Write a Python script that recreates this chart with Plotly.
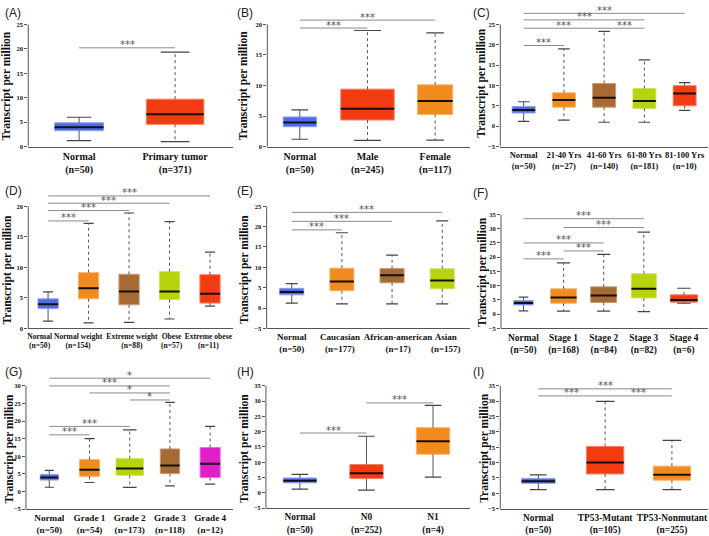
import plotly.graph_objects as go

# ---- data (TPM box statistics) ----
normal_lo, normal_q1, normal_med, normal_q3, normal_hi = 1.2, 3.25, 3.95, 4.85, 6.0

a_groups = ["Normal", "Primary tumor"]
a_n = [50, 371]
a_lo = [normal_lo, 1.0]
a_q1 = [normal_q1, 4.55]
a_med = [normal_med, 6.6]
a_q3 = [normal_q3, 9.7]
a_hi = [normal_hi, 19.3]
a_sig = [(0, 1, 20.2, "***")]

b_groups = ["Normal", "Male", "Female"]
b_n = [50, 245, 117]
b_lo = [normal_lo, 1.0, 1.05]
b_q1 = [normal_q1, 4.35, 5.25]
b_med = [normal_med, 6.2, 7.45]
b_q3 = [normal_q3, 9.4, 10.1]
b_hi = [normal_hi, 19.0, 18.6]
b_sig = [(0, 1, 19.4, "***"), (0, 2, 20.7, "***")]

c_groups = ["Normal", "21-40 Yrs", "41-60 Yrs", "61-80 Yrs", "81-100 Yrs"]
c_n = [50, 27, 140, 181, 10]
c_lo = [normal_lo, 1.5, 0.97, 0.97, 3.9]
c_q1 = [normal_q1, 4.67, 4.67, 4.35, 5.0]
c_med = [normal_med, 6.45, 7.0, 6.2, 8.0]
c_q3 = [normal_q3, 8.2, 10.5, 9.25, 9.95]
c_hi = [normal_hi, 19.0, 23.3, 16.3, 10.7]
c_sig = [(0, 1, 19.8, "***"), (0, 2, 24.05, "***"), (2, 3, 24.05, "***"),
         (0, 3, 26.1, "***"), (0, 4, 27.7, "***")]

d_groups = ["Normal", "Normal weight", "Extreme weight", "Obese", "Extreme obese"]
d_n = [50, 154, 88, 57, 11]
d_lo = [normal_lo, 0.9, 1.0, 1.55, 3.65]
d_q1 = [normal_q1, 4.85, 3.87, 4.73, 4.15]
d_med = [normal_med, 6.6, 6.07, 6.07, 5.7]
d_q3 = [normal_q3, 9.14, 8.87, 9.3, 8.8]
d_hi = [normal_hi, 17.2, 18.9, 17.5, 12.5]
d_sig = [(0, 1, 17.6, "***"), (0, 2, 19.3, "***"), (0, 3, 20.5, "***"), (0, 4, 21.7, "***")]

e_groups = ["Normal", "Caucasian", "African-american", "Asian"]
e_n = [50, 177, 17, 157]
e_lo = [normal_lo, 1.05, 1.05, 1.05]
e_q1 = [normal_q1, 4.26, 6.2, 4.75]
e_med = [normal_med, 6.5, 8.05, 6.76]
e_q3 = [normal_q3, 9.8, 9.7, 9.65]
e_hi = [normal_hi, 18.5, 13.0, 21.4]
e_sig = [(0, 1, 19.2, "***"), (0, 2, 21.3, "***"), (0, 3, 23.5, "***")]

f_groups = ["Normal", "Stage 1", "Stage 2", "Stage 3", "Stage 4"]
f_n = [50, 168, 84, 82, 6]
f_lo = [normal_lo, 1.1, 1.1, 0.9, 3.85]
f_q1 = [normal_q1, 3.85, 4.1, 5.7, 4.2]
f_med = [normal_med, 5.9, 6.6, 8.9, 5.0]
f_q3 = [normal_q3, 8.9, 9.6, 14.2, 6.8]
f_hi = [normal_hi, 18.0, 21.0, 28.8, 9.1]
f_sig = [(0, 1, 19.4, "***"), (1, 2, 22.2, "***"), (0, 2, 25.0, "***"),
         (1, 3, 30.4, "***"), (0, 3, 33.5, "***")]

g_groups = ["Normal", "Grade 1", "Grade 2", "Grade 3", "Grade 4"]
g_n = [50, 54, 173, 118, 12]
g_lo = [normal_lo, 2.55, 1.15, 1.6, 2.1]
g_q1 = [normal_q1, 4.3, 4.6, 5.07, 3.94]
g_med = [normal_med, 6.2, 6.55, 7.4, 7.85]
g_q3 = [normal_q3, 9.06, 9.35, 12.1, 12.5]
g_hi = [normal_hi, 15.0, 17.5, 25.3, 18.5]
g_sig = [(0, 1, 16.1, "***"), (0, 2, 18.5, "***"), (2, 3, 26.0, "*"),
         (1, 3, 28.0, "*"), (0, 3, 30.0, "***"), (0, 4, 32.2, "*")]

h_groups = ["Normal", "N0", "N1"]
h_n = [50, 252, 4]
h_lo = [normal_lo, 0.9, 5.1]
h_q1 = [normal_q1, 4.66, 12.6]
h_med = [normal_med, 6.4, 16.9]
h_q3 = [normal_q3, 9.26, 21.3]
h_hi = [normal_hi, 18.5, 28.6]
h_sig = [(0, 1, 19.55, "***"), (1, 2, 29.4, "***")]

i_groups = ["Normal", "TP53-Mutant", "TP53-Nonmutant"]
i_n = [50, 105, 255]
i_lo = [normal_lo, 1.17, 1.17]
i_q1 = [normal_q1, 6.3, 4.27]
i_med = [normal_med, 10.0, 6.08]
i_q3 = [normal_q3, 15.25, 8.85]
i_hi = [normal_hi, 29.9, 17.2]
i_sig = [(0, 1, 31.7, "***"), (1, 2, 31.7, "***"), (0, 2, 34.0, "***")]

# ---- style ----
W, H = 709, 536
BLUE = "#4f6ce8"
RED = "#f23b10"
ORANGE = "#f28b1d"
BROWN = "#a86a33"
LIME = "#b6d30c"
MAGENTA = "#e01fc8"
AXIS = "#555555"
SERIF = "Liberation Serif"


def lighten(c, f=0.35):
    r, g, b = (int(c[k:k + 2], 16) for k in (1, 3, 5))
    r, g, b = (round(v + (255 - v) * f) for v in (r, g, b))
    return f"rgb({r},{g},{b})"


panels = [
    dict(tag="(A)", groups=a_groups, n=a_n, stats=(a_lo, a_q1, a_med, a_q3, a_hi), sig=a_sig,
         colors=[BLUE, RED], widths=[0.51, 0.6], xpx=(27.3, 232), xr=(-0.53, 1.6),
         ypx=(20.7, 145), yr=(0, 25), font=10, title=(6, 83), tagpos=(2, 0)),
    dict(tag="(B)", groups=b_groups, n=b_n, stats=(b_lo, b_q1, b_med, b_q3, b_hi), sig=b_sig,
         colors=[BLUE, RED, ORANGE], widths=[0.49, 0.79, 0.52], xpx=(266.7, 470), xr=(-0.48, 2.52),
         ypx=(11.4, 145), yr=(0, 21.5), ytop=20, font=10, title=(243, 83), tagpos=(234, 0)),
    dict(tag="(C)", groups=c_groups, n=c_n, stats=(c_lo, c_q1, c_med, c_q3, c_hi), sig=c_sig,
         colors=[BLUE, ORANGE, BROWN, LIME, RED], widths=[0.57] * 5, xpx=(500, 708), xr=(-0.58, 4.58),
         ypx=(6.2, 145), yr=(-5, 28.5), ytop=25, font=8.5, title=(481.7, 81), tagpos=(471, 0)),
    dict(tag="(D)", groups=d_groups, n=d_n, stats=(d_lo, d_q1, d_med, d_q3, d_hi), sig=d_sig,
         colors=[BLUE, ORANGE, BROWN, LIME, RED], widths=[0.5] * 5, xpx=(27.3, 232), xr=(-0.49, 4.56),
         ypx=(190.2, 330), yr=(0, 22.5), ytop=20, font=7.6, title=(6, 270), tagpos=(2, 181),
         tickshift=[-0.21, -0.26, 0.07, 0.05, -0.04]),
    dict(tag="(E)", groups=e_groups, n=e_n, stats=(e_lo, e_q1, e_med, e_q3, e_hi), sig=e_sig,
         colors=[BLUE, ORANGE, BROWN, LIME], widths=[0.48] * 4, xpx=(266, 470), xr=(-0.5, 3.56),
         ypx=(205.7, 330), yr=(-5, 25), font=9.0, title=(244, 270), tagpos=(234, 181),
         tickshift=[0, -0.04, 0.12, 0.07]),
    dict(tag="(F)", groups=f_groups, n=f_n, stats=(f_lo, f_q1, f_med, f_q3, f_hi), sig=f_sig,
         colors=[BLUE, ORANGE, BROWN, LIME, RED], widths=[0.48, 0.65, 0.65, 0.62, 0.68],
         xpx=(500.7, 708), xr=(-0.56, 4.6), ypx=(214, 330), yr=(-5, 35), font=9.4,
         title=(482, 273), tagpos=(471, 183)),
    dict(tag="(G)", groups=g_groups, n=g_n, stats=(g_lo, g_q1, g_med, g_q3, g_hi), sig=g_sig,
         colors=[BLUE, ORANGE, LIME, BROWN, MAGENTA], widths=[0.45, 0.5, 0.68, 0.48, 0.5],
         xpx=(25, 232), xr=(-0.58, 4.56), ypx=(375.9, 513.7), yr=(-5, 33.5), ytop=30, font=9.2,
         title=(8, 452), tagpos=(2, 365)),
    dict(tag="(H)", groups=h_groups, n=h_n, stats=(h_lo, h_q1, h_med, h_q3, h_hi), sig=h_sig,
         colors=[BLUE, RED, ORANGE], widths=[0.5] * 3, xpx=(265.3, 470), xr=(-0.51, 2.56),
         ypx=(388.3, 512.7), yr=(-5, 35), font=9.4, title=(244, 452), tagpos=(234, 365), solid=True),
    dict(tag="(I)", groups=i_groups, n=i_n, stats=(i_lo, i_q1, i_med, i_q3, i_hi), sig=i_sig,
         colors=[BLUE, RED, ORANGE], widths=[0.5, 0.56, 0.56], xpx=(500, 708), xr=(-0.57, 2.54),
         ypx=(388.3, 513.3), yr=(-5, 35), font=9.4, title=(484, 452), tagpos=(471, 365)),
]

fig = go.Figure()
annotations = []
shapes = []

for k, p in enumerate(panels, start=1):
    sfx = "" if k == 1 else str(k)
    xa, ya = f"x{sfx}", f"y{sfx}"
    lo, q1, med, q3, hi = p["stats"]
    xs = list(range(len(p["groups"])))
    wd = p["widths"]

    # whiskers
    for solid_set, dash in ((True, "solid"), (False, "dot")):
        wx, wy = [], []
        for i in xs:
            is_solid = i == 0 or p.get("solid", False)
            if is_solid != solid_set:
                continue
            wx += [i, i, None, i, i, None]
            wy += [q3[i], hi[i], None, q1[i], lo[i], None]
        if wx:
            fig.add_trace(go.Scatter(x=wx, y=wy, mode="lines", xaxis=xa, yaxis=ya,
                                     line=dict(color="#555555", width=1, dash=dash),
                                     showlegend=False, hoverinfo="skip"))
    # caps
    cx, cy = [], []
    for i in xs:
        c = wd[i] * 0.25
        cx += [i - c, i + c, None, i - c, i + c, None]
        cy += [hi[i], hi[i], None, lo[i], lo[i], None]
    fig.add_trace(go.Scatter(x=cx, y=cy, mode="lines", xaxis=xa, yaxis=ya,
                             line=dict(color="#444444", width=1.2),
                             showlegend=False, hoverinfo="skip"))
    # boxes
    fig.add_trace(go.Bar(x=xs, y=[q3[i] - q1[i] for i in xs], base=q1, width=wd,
                         xaxis=xa, yaxis=ya,
                         marker=dict(color=p["colors"],
                                     line=dict(color=[lighten(c) for c in p["colors"]], width=1)),
                         showlegend=False, hoverinfo="skip"))
    # medians
    mx, my = [], []
    for i in xs:
        mx += [i - wd[i] / 2, i + wd[i] / 2, None]
        my += [med[i], med[i], None]
    fig.add_trace(go.Scatter(x=mx, y=my, mode="lines", xaxis=xa, yaxis=ya,
                             line=dict(color="#111111", width=2),
                             showlegend=False, hoverinfo="skip"))
    # significance brackets
    bx, by = [], []
    for i0, i1, yv, lab in p["sig"]:
        bx += [i0, i1, None]
        by += [yv, yv, None]
        annotations.append(dict(x=(i0 + i1) / 2, y=yv, xref=xa, yref=ya, text=lab,
                                showarrow=False, yanchor="middle", yshift=3,
                                font=dict(family="DejaVu Sans", size=10, color="#555555")))
    fig.add_trace(go.Scatter(x=bx, y=by, mode="lines", xaxis=xa, yaxis=ya,
                             line=dict(color="#8a8a8a", width=1),
                             showlegend=False, hoverinfo="skip"))

    # axes
    ytop = p.get("ytop", p["yr"][1])
    ticks = list(range(int(p["yr"][0]), int(ytop) + 1, 5))
    shift = p.get("tickshift", [0] * len(xs))
    fig.update_layout(**{
        f"xaxis{sfx}": dict(domain=[p["xpx"][0] / W, p["xpx"][1] / W], range=list(p["xr"]),
                            anchor=ya, tickvals=[i + s for i, s in zip(xs, shift)], tickangle=0,
                            ticktext=[f"{g}<br>(n={n})" for g, n in zip(p["groups"], p["n"])],
                            tickfont=dict(family=SERIF, size=p["font"], color="#111111", weight="bold"),
                            showline=True, linecolor=AXIS, linewidth=1, ticks="",
                            showgrid=False, zeroline=False, fixedrange=True),
        f"yaxis{sfx}": dict(domain=[1 - p["ypx"][1] / H, 1 - p["ypx"][0] / H], range=list(p["yr"]),
                            anchor=xa, tickvals=ticks,
                            tickfont=dict(family=SERIF, size=6.5, color="#111111", weight="bold"),
                            ticks="outside", ticklen=3, tickcolor=AXIS, tickwidth=1,
                            showline=False, showgrid=False, zeroline=False, fixedrange=True),
    })
    shapes.append(dict(type="line", xref=f"{xa} domain", yref=ya, x0=0, x1=0,
                       y0=p["yr"][0], y1=ytop, line=dict(color=AXIS, width=1)))

    annotations.append(dict(x=p["title"][0] / W, y=1 - p["title"][1] / H, xref="paper", yref="paper",
                            text="Transcript per million", textangle=-90, showarrow=False,
                            xanchor="center", yanchor="middle",
                            font=dict(family=SERIF, size=11.5, color="#111111", weight="bold")))
    annotations.append(dict(x=p["tagpos"][0] / W, y=1 - p["tagpos"][1] / H, xref="paper", yref="paper",
                            text=p["tag"], showarrow=False, xanchor="left", yanchor="top",
                            font=dict(family="Liberation Sans", size=12, color="#222222")))

fig.update_layout(
    width=W, height=H,
    margin=dict(l=0, r=0, t=0, b=0),
    paper_bgcolor="white", plot_bgcolor="white",
    barmode="overlay",
    annotations=annotations,
    shapes=shapes,
    showlegend=False,
)

# drop the default 8px page margin so the 709x536 figure fills the window exactly
fig.write_html("out.html", config={"displayModeBar": False},
               post_script="document.body.style.margin='0';document.body.style.overflow='hidden';")
